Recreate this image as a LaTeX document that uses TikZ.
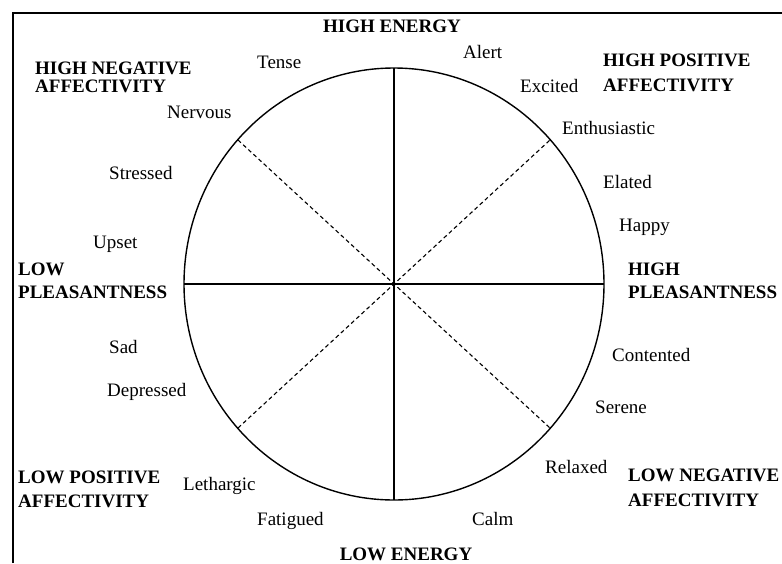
\documentclass[tikz,border=0pt]{standalone}
\usepackage{fontspec}
\setmainfont{Liberation Serif}
\usetikzlibrary{positioning}

\begin{document}
\begin{tikzpicture}[x=1pt,y=-1pt,
	mood/.style={anchor=base west,inner sep=0pt,font=\fontsize{19}{19}\selectfont},
	region/.style={anchor=base west,inner sep=0pt,align=left,font=\fontsize{19}{24}\selectfont\bfseries}]
	\useasboundingbox (0,0) rectangle (782,563);
	\draw[line width=1.2pt] (13,563)--(13,13)--(782,13);
	
	% the circle and its axes
	\coordinate (c) at (394,284);
	\draw[line width=1.4pt] (c) ellipse [x radius=210pt, y radius=216pt];
	\coordinate (n) at (394,68);
	\coordinate (s) at (394,500);
	\coordinate (w) at (184,284);
	\coordinate (e) at (604,284);
	\draw[line width=1.1pt] (n)--(s);
	\draw[line width=1.1pt] (w)--(e);
	\coordinate (nw) at (238,140);
	\coordinate (ne) at (550,140);
	\coordinate (sw) at (238,428);
	\coordinate (se) at (550,428);
	\draw[line width=1.1pt,dash pattern=on 4pt off 3pt] (nw)--(se);
	\draw[line width=1.1pt,dash pattern=on 4pt off 3pt] (sw)--(ne);
	
	% the four axes (base = last line)
	\node[region,anchor=base] (highE) at (392,32) {HIGH ENERGY};
	\node[region,anchor=base] (lowE) at (406,560) {LOW ENERGY};
	\node[region] (lowP) at (18,298) {LOW\\[-1pt]PLEASANTNESS};
	\node[region] (highP) at (628,298) {HIGH\\[-1pt]PLEASANTNESS};
	\node[region] (highNA) at (35,92) {HIGH NEGATIVE\\[-6pt]AFFECTIVITY};
	\node[region] (highPA) at (603,91) {HIGH POSITIVE\\[1pt]AFFECTIVITY};
	\node[region] (lowPA) at (18,507) {LOW POSITIVE\\AFFECTIVITY};
	\node[region] (lowNA) at (628,506) {LOW NEGATIVE\\[1pt]AFFECTIVITY};
	
	% the moods round the circle
	\node[mood] (tense) at (257,68) {Tense};
	\node[mood] (alert) at (463,58) {Alert};
	\node[mood] (excited) at (520,92) {Excited};
	\node[mood] (nervous) at (167,118) {Nervous};
	\node[mood] (enthus) at (562,134) {Enthusiastic};
	\node[mood] (stressed) at (109,179) {Stressed};
	\node[mood] (elated) at (603,188) {Elated};
	\node[mood] (happy) at (619,231) {Happy};
	\node[mood] (upset) at (93,248) {Upset};
	\node[mood] (sad) at (109,353) {Sad};
	\node[mood] (contented) at (612,361) {Contented};
	\node[mood] (depressed) at (107,396) {Depressed};
	\node[mood] (serene) at (595,413) {Serene};
	\node[mood] (relaxed) at (545,473) {Relaxed};
	\node[mood] (lethargic) at (183,490) {Lethargic};
	\node[mood] (fatigued) at (257,525) {Fatigued};
	\node[mood] (calm) at (472,525) {Calm};
	
\end{tikzpicture}
\end{document}
